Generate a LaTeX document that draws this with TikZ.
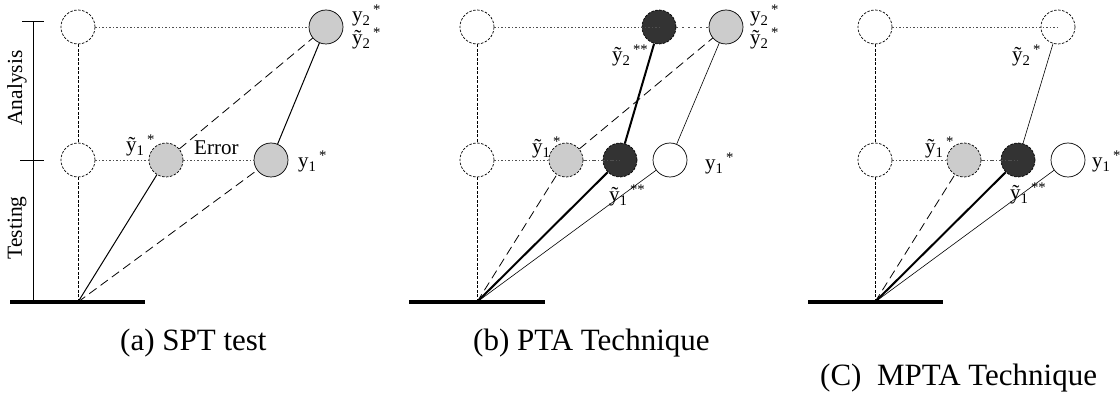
\documentclass[tikz,border=0pt]{standalone}
\usepackage{fontspec}
\setmainfont{Liberation Serif}
\definecolor{lightg}{HTML}{CCCCCC}
\definecolor{darkg}{HTML}{333333}
\definecolor{dotg}{HTML}{505050}
\begin{document}
\begin{tikzpicture}[x=1pt,y=-1pt,
  circ/.style={circle,minimum size=34pt,inner sep=0pt,draw,line width=0.7pt},
  ghost/.style={circ,dash pattern=on 2.5pt off 1.5pt,fill=white},
  grayd/.style={circ,dash pattern=on 2.5pt off 1.5pt,fill=lightg},
  grays/.style={circ,fill=lightg},
  darkd/.style={circ,dash pattern=on 2.5pt off 1.5pt,fill=darkg},
  whites/.style={circ,fill=white},
  lab/.style={font=\fontsize{21}{24}\selectfont,inner sep=0pt,anchor=base west},
  side/.style={font=\fontsize{21.5}{24}\selectfont,inner sep=0pt,rotate=90},
  captxt/.style={font=\fontsize{31}{35}\selectfont,inner sep=0pt,anchor=base west},
  dsh/.style={line width=0.8pt,dash pattern=on 9pt off 5pt},
  dot/.style={line width=0.9pt,dash pattern=on 1.3pt off 2.2pt,dotg},
  loosedot/.style={line width=0.9pt,dash pattern=on 2pt off 4pt,dotg},
  dashdot/.style={line width=0.9pt,dash pattern=on 4pt off 2pt on 1pt off 2pt,dotg},
  vdash/.style={line width=0.8pt,dash pattern=on 3pt off 1.5pt},
  thinl/.style={line width=0.6pt},
  midl/.style={line width=1pt},
  thickl/.style={line width=2pt},
  ground/.style={line width=4.5pt},
]
\useasboundingbox (0,0) rectangle (1120,398);

% ---------- scale ----------
\coordinate (sT) at (33,22);
\coordinate (sB) at (33,302);
\coordinate (tkA1) at (22,22);
\coordinate (tkA2) at (44,22);
\coordinate (tkB1) at (20,161);
\coordinate (tkB2) at (44,161);
\draw[midl] (sT) -- (sB);
\draw[midl] (tkA1) -- (tkA2);
\draw[midl] (tkB1) -- (tkB2);
\node[side] (anl) at (17,88) {Analysis};
\node[side] (tst) at (17,228) {Testing};

% ---------- panel (a) ----------
\coordinate (aG) at (78,302);
\coordinate (aGl) at (10,302);
\coordinate (aGr) at (145,302);
\node[ghost] (aL2) at (78,27) {};
\node[ghost] (aL1) at (78,160) {};
\node[grayd] (aT1) at (166,160) {};
\node[grays] (aY1) at (271,160) {};
\node[grays] (aY2) at (326,27) {};
\draw[vdash] (aL2) -- (aL1);
\draw[vdash] (aL1) -- (aG);
\draw[dot] (aL2) -- (aY2);
\draw[dot] (aL1) -- (aT1);
\draw[dot] (aT1) -- (aY1);
\draw[midl] (aG) -- (aT1);
\draw[dsh] (aG) -- (aY1);
\draw[midl] (aY1) -- (aY2);
\draw[dsh] (aT1) -- (aY2);
\draw[ground] (aGl) -- (aGr);
\node[lab] (laY2) at (352,22) {y\textsubscript{2}\textsuperscript{\,*}};
\node[lab] (laT2) at (352,45) {ỹ\textsubscript{2}\textsuperscript{\,*}};
\node[lab] (laT1) at (126,152) {ỹ\textsubscript{1}\textsuperscript{\,*}};
\node[lab] (laErr) at (194,155) {Error};
\node[lab] (laY1) at (298,168) {y\textsubscript{1}\textsuperscript{\,*}};
\node[captxt] (capA) at (120,350) {(a) SPT test};

% ---------- panel (b) ----------
\coordinate (bG) at (477,302);
\coordinate (bGl) at (409,302);
\coordinate (bGr) at (545,302);
\node[ghost] (bL2) at (477,27) {};
\node[ghost] (bL1) at (477,160) {};
\node[grayd] (bT1) at (566,160) {};
\node[darkd] (bD1) at (620,160) {};
\node[whites] (bY1) at (670,160) {};
\node[darkd] (bD2) at (659,27) {};
\node[grays] (bY2) at (726,27) {};
\draw[vdash] (bL2) -- (bL1);
\draw[vdash] (bL1) -- (bG);
\draw[dot] (bL2) -- (bD2.center);
\draw[loosedot] (bD2) -- (bY2);
\draw[dot] (bL1) -- (bT1);
\draw[dashdot] (bT1) -- (bD1.center);
\draw[dsh] (bG) -- (bT1);
\draw[dsh] (bT1) -- (bY2);
\draw[thickl] (bG) -- (bD1);
\draw[thickl] (bD1) -- (bD2);
\draw[thinl] (bG) -- (bY1);
\draw[thinl] (bY1) -- (bY2);
\draw[ground] (bGl) -- (bGr);
\node[lab] (lbD2) at (612,62) {ỹ\textsubscript{2}\textsuperscript{\,**}};
\node[lab] (lbT1) at (532,154) {ỹ\textsubscript{1}\textsuperscript{\,*}};
\node[lab] (lbD1) at (609,202) {ỹ\textsubscript{1}\textsuperscript{\,**}};
\node[lab] (lbY1) at (705,170) {y\textsubscript{1}\textsuperscript{\,*}};
\node[lab] (lbY2) at (750,22) {y\textsubscript{2}\textsuperscript{\,*}};
\node[lab] (lbT2) at (750,45) {ỹ\textsubscript{2}\textsuperscript{\,*}};
\node[captxt] (capB) at (473,350) {(b) PTA Technique};

% ---------- panel (c) ----------
\coordinate (cG) at (875,302);
\coordinate (cGl) at (808,302);
\coordinate (cGr) at (943,302);
\node[ghost] (cL2) at (875,27) {};
\node[ghost] (cL1) at (875,160) {};
\node[grayd] (cT1) at (964,160) {};
\node[darkd] (cD1) at (1018,160) {};
\node[whites] (cY1) at (1068,160) {};
\node[ghost] (cT2) at (1058,27) {};
\draw[vdash] (cL2) -- (cL1);
\draw[vdash] (cL1) -- (cG);
\draw[dot] (cL2) -- (cT2.center);
\draw[dot] (cL1) -- (cT1);
\draw[dashdot] (cT1) -- (cD1.center);
\draw[dsh] (cG) -- (cT1);
\draw[thickl] (cG) -- (cD1);
\draw[thinl] (cG) -- (cY1);
\draw[thinl] (cD1) -- (cT2);
\draw[ground] (cGl) -- (cGr);
\node[lab] (lcT2) at (1012,62) {ỹ\textsubscript{2}\textsuperscript{\,*}};
\node[lab] (lcT1) at (925,154) {ỹ\textsubscript{1}\textsuperscript{\,*}};
\node[lab] (lcD1) at (1010,200) {ỹ\textsubscript{1}\textsuperscript{\,**}};
\node[lab] (lcY1) at (1092,168) {y\textsubscript{1}\textsuperscript{\,*}};
\node[captxt] (capC) at (820,385) {(C)\ \ MPTA Technique};
\end{tikzpicture}
\end{document}
